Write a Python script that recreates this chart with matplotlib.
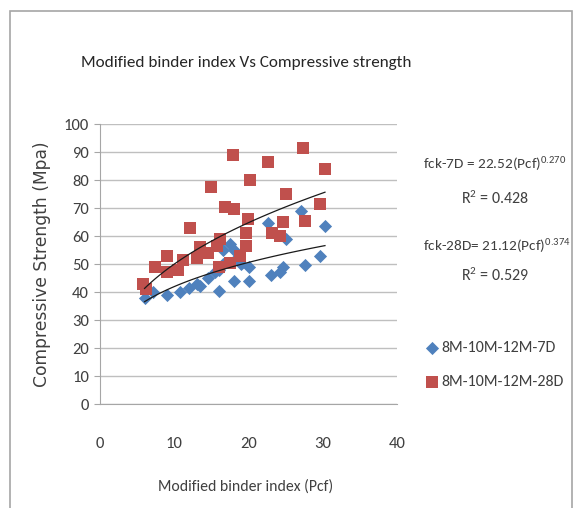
import matplotlib
matplotlib.use("Agg")
import matplotlib.pyplot as plt
import numpy as np
from matplotlib.patches import Rectangle

NARROW = ["Carlito", "DejaVu Sans"]
TEXT_COLOR = "#404040"
BLUE = "#4F81BD"
RED = "#C0504D"
GRID = "#BFBFBF"

plt.rcParams.update({
    "mathtext.fontset": "custom",
    "mathtext.rm": "Carlito",
    "mathtext.it": "Carlito:italic",
    "mathtext.bf": "Carlito:bold",
})

# 7 day strength (blue diamonds)
pcf_7d = [6.0, 7.2, 9.0, 10.8, 12.0, 13.0, 13.5, 14.5, 15.5, 16.0, 16.0, 16.5, 16.5,
          17.5, 18.0, 18.0, 18.5, 19.0, 20.0, 20.0, 22.6, 23.0, 24.2, 24.6, 25.1,
          27.1, 27.6, 29.6, 30.3]
fck_7d = [38.0, 40.0, 39.0, 40.0, 41.5, 43.0, 42.0, 45.0, 47.0, 40.5, 48.0, 55.0, 50.0,
          57.0, 44.0, 55.0, 52.0, 50.0, 44.0, 49.0, 64.5, 46.0, 47.0, 49.0, 59.0,
          69.0, 49.5, 53.0, 63.5]

# 28 day strength (red squares)
pcf_28d = [5.8, 6.2, 7.4, 9.0, 9.0, 10.5, 11.2, 12.1, 13.0, 13.5, 14.5, 15.0, 15.7,
           16.1, 16.0, 16.8, 17.5, 17.9, 18.0, 18.8, 19.7, 19.7, 19.9, 20.2, 22.6,
           23.1, 24.2, 24.6, 25.1, 27.3, 27.6, 29.6, 30.3]
fck_28d = [43.0, 41.0, 49.0, 53.0, 47.0, 48.0, 51.5, 63.0, 52.0, 56.0, 54.0, 77.5, 56.5,
           59.0, 49.0, 70.5, 50.5, 89.0, 69.5, 53.0, 61.0, 56.5, 66.0, 80.0, 86.5,
           61.0, 60.0, 65.0, 75.0, 91.5, 65.5, 71.5, 84.0]

# power trendlines as printed on the chart
coef_7d, exp_7d, r2_7d = 22.52, 0.270, 0.428
coef_28d, exp_28d, r2_28d = 21.12, 0.374, 0.529

x_ticks = [0, 10, 20, 30, 40]
y_ticks = list(range(0, 101, 10))

fig = plt.figure(figsize=(5.74, 5.08), dpi=100)
fig.patches.append(Rectangle((10 / 574, -0.05), 562 / 574, 1 - 11 / 508 + 0.05,
                             transform=fig.transFigure, fill=False,
                             edgecolor="#A6A6A6", linewidth=1.2))

ax = fig.add_axes([100 / 574, 1 - 404 / 508, 297 / 574, 280 / 508])
ax.set_xlim(0, 40)
ax.set_ylim(0, 100)
ax.set_xticks(x_ticks)
ax.set_yticks(y_ticks)
ax.grid(axis="y", color=GRID, linewidth=1.0)
ax.set_axisbelow(True)
for side in ["top", "right"]:
    ax.spines[side].set_visible(False)
for side in ["left", "bottom"]:
    ax.spines[side].set_color("#A6A6A6")
ax.tick_params(axis="y", length=4, color="#A6A6A6", labelcolor=TEXT_COLOR,
               labelsize=12, pad=4)
ax.tick_params(axis="x", length=0, labelcolor=TEXT_COLOR, labelsize=12, pad=24)
for lab in ax.get_xticklabels() + ax.get_yticklabels():
    lab.set_family(NARROW)

xf = np.linspace(min(pcf_7d), max(pcf_7d), 100)
ax.plot(xf, coef_7d * xf ** exp_7d, color="#1a1a1a", linewidth=0.9, zorder=4)
ax.plot(xf, coef_28d * xf ** exp_28d, color="#1a1a1a", linewidth=0.9, zorder=4)

ax.scatter(pcf_7d, fck_7d, marker="D", s=45, color=BLUE, linewidths=0, zorder=3,
           label="8M-10M-12M-7D")
ax.scatter(pcf_28d, fck_28d, marker="s", s=80, color=RED, linewidths=0, zorder=3,
           label="8M-10M-12M-28D")

fig.text(246 / 574, 1 - 63 / 508, "Modified binder index Vs Compressive strength",
         ha="center", va="center", fontsize=12.3, color="#262626", family=NARROW)
fig.text(246 / 574, 1 - 487 / 508, "Modified binder index (Pcf)",
         ha="center", va="center", fontsize=11.3, color=TEXT_COLOR, family=NARROW)
fig.text(42 / 574, 1 - 264 / 508, "Compressive Strength (Mpa)", rotation=90,
         ha="center", va="center", fontsize=12.3, color=TEXT_COLOR)

fig.text(495 / 574, 1 - 165 / 508,
         "fck-7D = %.2f(Pcf)$^{%.3f}$" % (coef_7d, exp_7d),
         ha="center", va="center", fontsize=11, color=TEXT_COLOR, family=NARROW)
fig.text(495 / 574, 1 - 198 / 508, "R$^{2}$ = %.3f" % r2_7d,
         ha="center", va="center", fontsize=11.5, color=TEXT_COLOR, family=NARROW)
fig.text(497 / 574, 1 - 247 / 508,
         "fck-28D= %.2f(Pcf)$^{%.3f}$" % (coef_28d, exp_28d),
         ha="center", va="center", fontsize=11, color=TEXT_COLOR, family=NARROW)
fig.text(495 / 574, 1 - 275 / 508, "R$^{2}$ = %.3f" % r2_28d,
         ha="center", va="center", fontsize=11.5, color=TEXT_COLOR, family=NARROW)

leg = fig.legend(loc="center left", bbox_to_anchor=(414 / 574, 1 - 365 / 508),
                 frameon=False, handletextpad=0.0, labelspacing=1.25,
                 prop={"family": NARROW, "size": 11.5}, handlelength=1.2,
                 borderpad=0)
for t in leg.get_texts():
    t.set_color(TEXT_COLOR)

fig.savefig("out.png", dpi=100)
